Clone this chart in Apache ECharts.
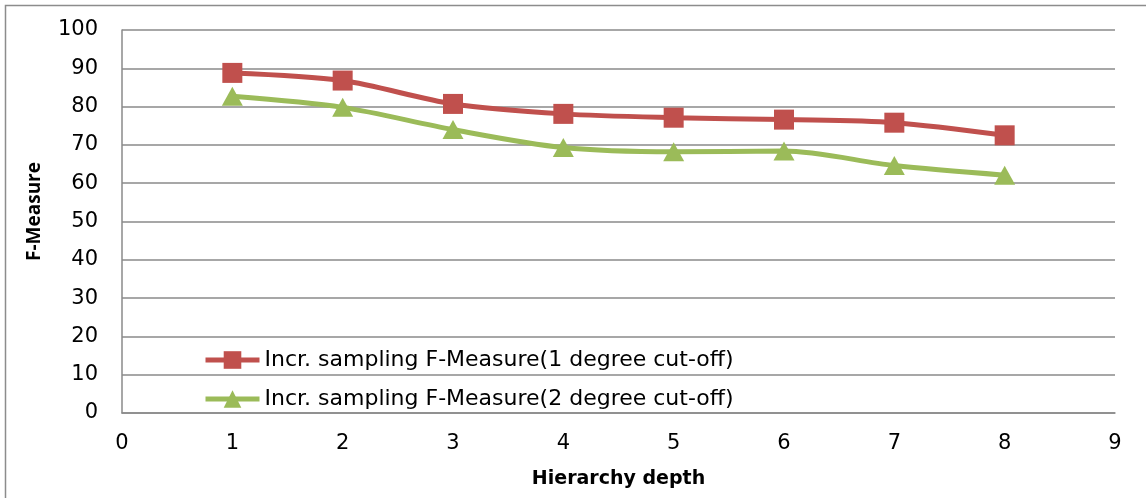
<!DOCTYPE html>
<html>
<head>
<meta charset="utf-8">
<title>F-Measure by hierarchy depth</title>
<script src="https://cdn.jsdelivr.net/npm/echarts@6/dist/echarts.min.js"></script>
<style>
  html, body { margin: 0; padding: 0; background: #ffffff; }
  #chart { width: 1146px; height: 498px; }
</style>
</head>
<body>
<div id="chart"></div>
<script>
// Hierarchy depth on the x axis
const depths = [1, 2, 3, 4, 5, 6, 7, 8];

// F-Measure per depth for each cut-off setting
const oneDegree = [88.8, 86.8, 80.7, 78.1, 77.1, 76.6, 75.8, 72.5];
const twoDegree = [82.7, 79.8, 74.0, 69.3, 68.2, 68.4, 64.6, 62.1];

const seriesNames = [
  'Incr. sampling F-Measure(1 degree cut-off)',
  'Incr. sampling F-Measure(2 degree cut-off)'
];

const WIDE_FONT = '"DejaVu Sans", "Open Sans", sans-serif';
const NAME_FONT = '"Open Sans", "DejaVu Sans", sans-serif';
const GRID_GREY = '#8a8a8a';

const pairs = (ys) => depths.map((x, i) => [x, ys[i]]);

const chart = echarts.init(document.getElementById('chart'), null, { renderer: 'canvas' });

chart.setOption({
  animation: false,
  backgroundColor: '#ffffff',
  textStyle: { fontFamily: WIDE_FONT },
  graphic: [{
    type: 'rect',
    shape: { x: 5.5, y: 5.5, width: 1200, height: 600 },
    style: { fill: 'none', stroke: '#8c8c8c', lineWidth: 1.5 },
    silent: true
  }],
  grid: { left: 122, top: 30, right: 31, bottom: 85, containLabel: false },
  legend: {
    orient: 'vertical',
    left: 198,
    top: 344,
    itemWidth: 54,
    itemHeight: 22,
    itemGap: 17,
    lineStyle: { width: 5 },
    textStyle: { fontFamily: WIDE_FONT, fontSize: 22, color: '#000000' },
    data: seriesNames
  },
  xAxis: {
    type: 'value',
    min: 0,
    max: 9,
    interval: 1,
    name: 'Hierarchy depth',
    nameLocation: 'middle',
    nameGap: 57,
    nameTextStyle: { fontFamily: WIDE_FONT, fontSize: 19, fontWeight: 'bold', color: '#000000' },
    axisLine: { show: true, lineStyle: { color: GRID_GREY, width: 1.5 } },
    axisTick: { show: false },
    splitLine: { show: false },
    axisLabel: { fontFamily: WIDE_FONT, fontSize: 21, color: '#000000', margin: 20 }
  },
  yAxis: {
    type: 'value',
    min: 0,
    max: 100,
    interval: 10,
    name: 'F-Measure',
    nameLocation: 'middle',
    nameRotate: 90,
    nameGap: 78,
    nameTextStyle: {
      fontFamily: NAME_FONT, fontSize: 19, fontWeight: 'bold', color: '#000000',
      padding: [0, 0, 0, 20]
    },
    axisLine: { show: true, lineStyle: { color: GRID_GREY, width: 1.5 } },
    axisTick: { show: false },
    splitLine: { show: true, lineStyle: { color: GRID_GREY, width: 1.5 } },
    axisLabel: { fontFamily: WIDE_FONT, fontSize: 21, color: '#000000', margin: 24 }
  },
  series: [
    {
      name: seriesNames[0],
      type: 'line',
      data: pairs(oneDegree),
      smooth: 0.3,
      symbol: 'rect',
      symbolSize: 20,
      lineStyle: { color: '#c0504d', width: 5 },
      itemStyle: { color: '#c0504d' },
      z: 3
    },
    {
      name: seriesNames[1],
      type: 'line',
      data: pairs(twoDegree),
      smooth: 0.3,
      symbol: 'triangle',
      symbolSize: [21, 19],
      lineStyle: { color: '#9bbb59', width: 5 },
      itemStyle: { color: '#9bbb59' },
      z: 2
    }
  ]
});
</script>
</body>
</html>
